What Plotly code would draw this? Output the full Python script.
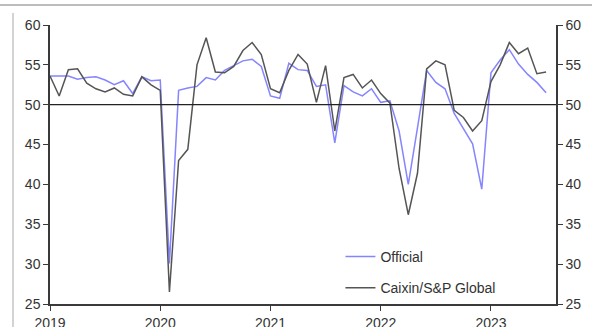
import plotly.graph_objects as go

start_year = 2019
n_months = 55  # Jan 2019 .. Jul 2023
months = [start_year + i / 12 for i in range(n_months)]

official = [
    53.6, 53.6, 53.6, 53.2, 53.4, 53.5, 53.1, 52.5, 53.0, 51.4, 53.5, 53.0,
    53.1, 30.1, 51.8, 52.1, 52.3, 53.4, 53.1, 54.3, 54.9, 55.5, 55.7, 54.8,
    51.1, 50.8, 55.2, 54.4, 54.3, 52.3, 52.5, 45.2, 52.4, 51.6, 51.1, 52.0,
    50.3, 50.5, 46.7, 40.0, 47.1, 54.3, 52.8, 52.0, 48.9, 47.0, 45.1, 39.4,
    54.0, 55.6, 56.9, 55.1, 53.8, 52.8, 51.5,
]
caixin = [
    53.6, 51.1, 54.4, 54.5, 52.7, 52.0, 51.6, 52.1, 51.3, 51.1, 53.5, 52.5,
    51.8, 26.5, 43.0, 44.4, 55.0, 58.4, 54.1, 54.0, 54.8, 56.8, 57.8, 56.3,
    52.0, 51.5, 54.3, 56.3, 55.1, 50.3, 54.9, 46.7, 53.4, 53.8, 52.1, 53.1,
    51.4, 50.2, 42.0, 36.2, 41.4, 54.5, 55.5, 55.0, 49.3, 48.4, 46.7, 48.0,
    52.9, 55.0, 57.8, 56.4, 57.1, 53.9, 54.1,
]
year_ticks = [2019, 2020, 2021, 2022, 2023]
y_ticks = [25, 30, 35, 40, 45, 50, 55, 60]

FONT = "Liberation Sans, Arial, sans-serif"
AX = "#3a3a3a"

fig = go.Figure()
fig.add_trace(go.Scatter(x=months, y=official, name="Official", mode="lines",
                         line=dict(color="#8585ff", width=1.5), legendgroup="a"))
fig.add_trace(go.Scatter(x=months, y=caixin, name="Caixin/S&P Global", mode="lines",
                         line=dict(color="#555555", width=1.5), legendgroup="b"))
fig.add_trace(go.Scatter(x=months, y=caixin, yaxis="y2", mode="lines",
                         line=dict(width=0), showlegend=False, hoverinfo="skip"))

fig.add_shape(type="line", xref="paper", x0=0, x1=1, yref="y", y0=50, y1=50,
              line=dict(color="#222222", width=1.3))
# outer frame lines (top and left)
fig.add_shape(type="line", xref="paper", yref="paper", x0=-0.1, x1=1.1,
              y0=1.0717, y1=1.0717, line=dict(color="#bdbdbd", width=2))
fig.add_shape(type="line", xref="paper", yref="paper", x0=-0.0731, x1=-0.0731,
              y0=-0.2, y1=1.043, line=dict(color="#c4c4c4", width=1.5))

axis_common = dict(showline=True, linecolor=AX, linewidth=1.5, ticks="outside",
                   ticklen=5, tickcolor=AX, tickwidth=1.2, showgrid=False,
                   zeroline=False, automargin=False,
                   tickfont=dict(family=FONT, size=14, color="#333333"))

fig.update_layout(
    width=592, height=327,
    margin=dict(l=50, r=36, t=25, b=23),
    paper_bgcolor="white", plot_bgcolor="white",
    showlegend=True,
    legend=dict(x=0.574, y=0.226, xanchor="left", yanchor="top",
                bgcolor="rgba(0,0,0,0)", tracegroupgap=10,
                font=dict(family=FONT, size=14, color="#333333")),
    xaxis=dict(range=[2019, 2023.59], tickvals=year_ticks,
               ticktext=[str(y) for y in year_ticks], **axis_common),
    yaxis=dict(range=[25, 60], tickvals=y_ticks, **axis_common),
    yaxis2=dict(range=[25, 60], tickvals=y_ticks, overlaying="y", side="right",
                **axis_common),
)

fig.write_html("out.html", config={"displayModeBar": False},
               post_script="document.body.style.margin='0';")
